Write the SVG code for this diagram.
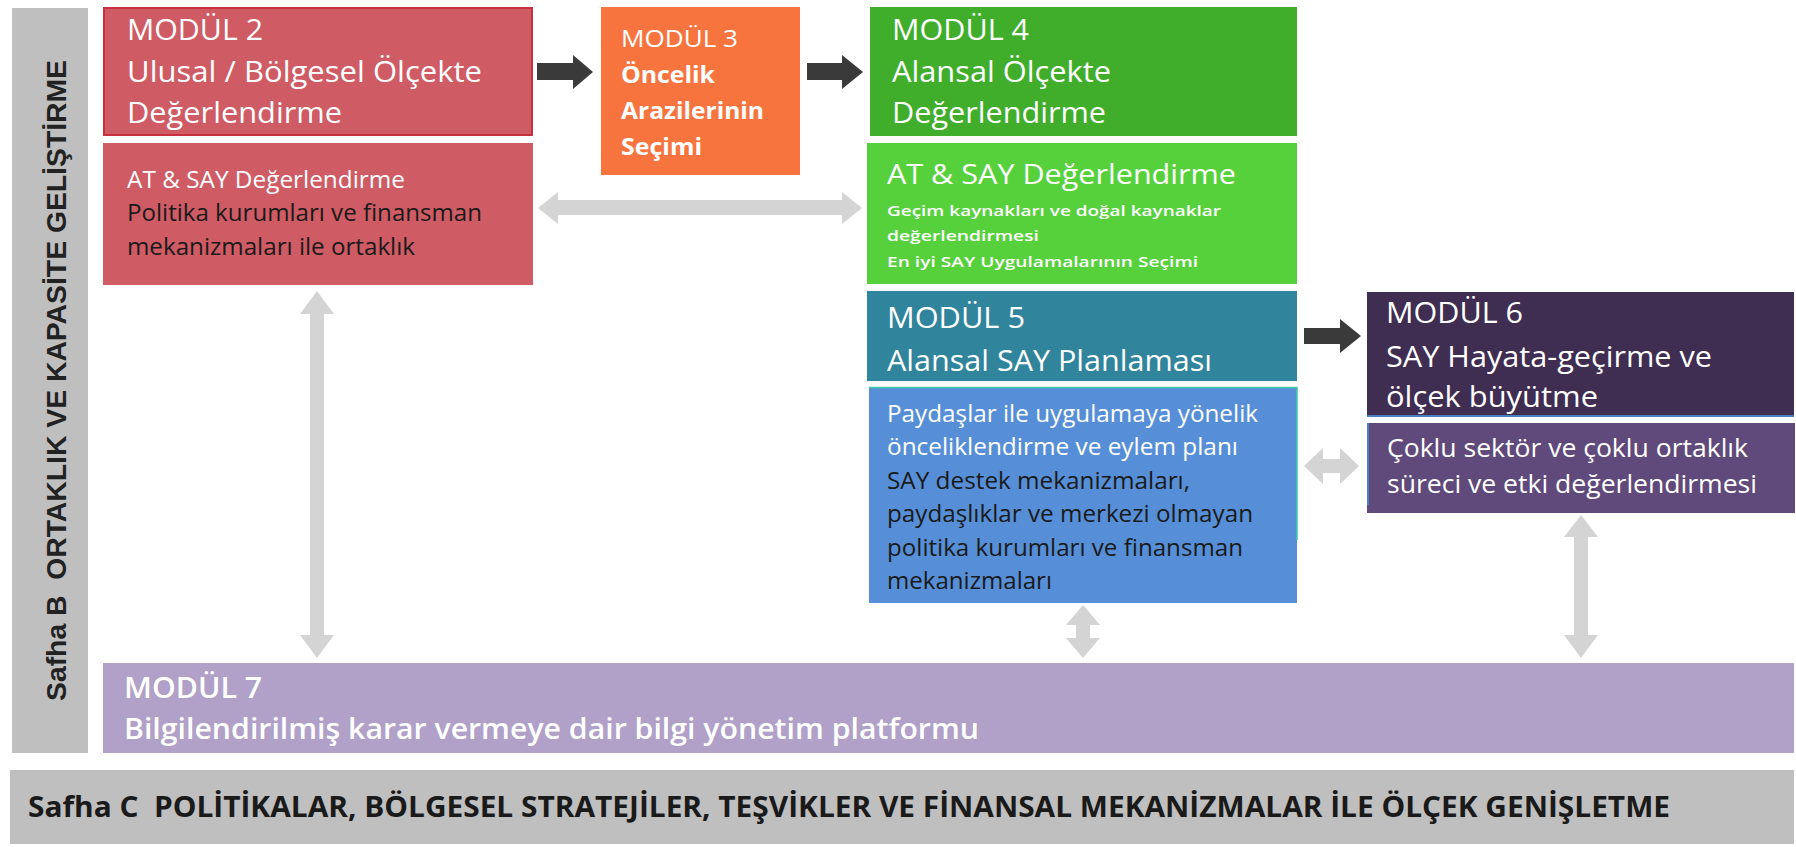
<svg xmlns="http://www.w3.org/2000/svg" width="1796" height="847" viewBox="0 0 1796 847">
<style>
  text { font-family: "Open Sans", "Noto Sans", "Liberation Sans", sans-serif; }
  .w { fill: #ffffff; }
  .d { fill: #1a1a1a; }
  .t { font-size: 29px; }
  .s { font-size: 24px; }
  .b { font-weight: bold; }
  .sb { font-weight: 600; }
  .garrow { fill: #d4d4d4; }
  .darrow { fill: #3a3a3a; }
</style>
<rect x="0" y="0" width="1796" height="847" fill="#ffffff"/>

<g id="safha-b">
  <rect x="12" y="8" width="76" height="745" fill="#bfbfbf"/>
  <text transform="translate(66,701) rotate(-90)" x="0" y="0" xml:space="preserve" style="font-family:'Liberation Sans',Arial,sans-serif;font-weight:bold;font-size:28px" fill="#222222" textLength="641" lengthAdjust="spacingAndGlyphs">Safha B  ORTAKLIK VE KAPASİTE GELİŞTİRME</text>
</g>

<g id="safha-c">
  <rect x="10" y="770" width="1784" height="74" fill="#bfbfbf"/>
  <text x="28" y="817" xml:space="preserve" class="d b" style="font-size:28px" textLength="1642" lengthAdjust="spacingAndGlyphs">Safha C  POLİTİKALAR, BÖLGESEL STRATEJİLER, TEŞVİKLER VE FİNANSAL MEKANİZMALAR İLE ÖLÇEK GENİŞLETME</text>
</g>

<g id="modul2">
  <rect x="104" y="8" width="428" height="127" fill="#cf5b64" stroke="#c8303f" stroke-width="2"/>
  <text x="127" y="40" class="w t" textLength="136" lengthAdjust="spacingAndGlyphs">MODÜL 2</text>
  <text x="127" y="82" class="w t" textLength="355" lengthAdjust="spacingAndGlyphs">Ulusal / Bölgesel Ölçekte</text>
  <text x="127" y="123" class="w t" textLength="215" lengthAdjust="spacingAndGlyphs">Değerlendirme</text>
</g>
<g id="modul2-alt">
  <rect x="103" y="143" width="430" height="142" fill="#cf5b64"/>
  <text x="127" y="188" class="w" style="font-size:23px" textLength="278" lengthAdjust="spacingAndGlyphs">AT &amp; SAY Değerlendirme</text>
  <text x="127" y="221" class="d s" textLength="355" lengthAdjust="spacingAndGlyphs">Politika kurumları ve finansman</text>
  <text x="127" y="255" class="d s" textLength="288" lengthAdjust="spacingAndGlyphs">mekanizmaları ile ortaklık</text>
</g>

<g id="modul3">
  <rect x="601" y="7" width="199" height="168" fill="#f8743f"/>
  <text x="621" y="47" class="w" style="font-size:23px" textLength="117" lengthAdjust="spacingAndGlyphs">MODÜL 3</text>
  <text x="621" y="83" class="w b" style="font-size:23px" textLength="94" lengthAdjust="spacingAndGlyphs">Öncelik</text>
  <text x="621" y="119" class="w b" style="font-size:23px" textLength="143" lengthAdjust="spacingAndGlyphs">Arazilerinin</text>
  <text x="621" y="155" class="w b" style="font-size:23px" textLength="81" lengthAdjust="spacingAndGlyphs">Seçimi</text>
</g>

<g id="modul4">
  <rect x="870" y="7" width="427" height="129" fill="#40ae2b"/>
  <text x="892" y="40" class="w t" textLength="137" lengthAdjust="spacingAndGlyphs">MODÜL 4</text>
  <text x="892" y="82" class="w t" textLength="219" lengthAdjust="spacingAndGlyphs">Alansal Ölçekte</text>
  <text x="892" y="123" class="w t" textLength="214" lengthAdjust="spacingAndGlyphs">Değerlendirme</text>
</g>
<g id="modul4-alt">
  <rect x="867" y="143" width="430" height="141" fill="#56d13c"/>
  <text x="887" y="184" class="w" style="font-size:27px" textLength="349" lengthAdjust="spacingAndGlyphs">AT &amp; SAY Değerlendirme</text>
  <text x="887" y="216" class="w sb" style="font-size:15px" textLength="334" lengthAdjust="spacingAndGlyphs">Geçim kaynakları ve doğal kaynaklar</text>
  <text x="887" y="241" class="w sb" style="font-size:15px" textLength="152" lengthAdjust="spacingAndGlyphs">değerlendirmesi</text>
  <text x="887" y="267" class="w sb" style="font-size:15px" textLength="311" lengthAdjust="spacingAndGlyphs">En iyi SAY Uygulamalarının Seçimi</text>
</g>

<g id="modul5">
  <rect x="867" y="291" width="430" height="90" fill="#30849b"/>
  <text x="887" y="328" class="w t" textLength="138" lengthAdjust="spacingAndGlyphs">MODÜL 5</text>
  <text x="887" y="371" class="w t" textLength="325" lengthAdjust="spacingAndGlyphs">Alansal SAY Planlaması</text>
</g>
<g id="modul5-alt">
  <rect x="869" y="387" width="428" height="216" fill="#568fd7"/>
  <path d="M869 387.5 H1297 V540" fill="none" stroke="#3fc9a9" stroke-width="1.5"/>
  <text x="887" y="422" class="w s" textLength="371" lengthAdjust="spacingAndGlyphs">Paydaşlar ile uygulamaya yönelik</text>
  <text x="887" y="455" class="w s" textLength="351" lengthAdjust="spacingAndGlyphs">önceliklendirme ve eylem planı</text>
  <text x="887" y="489" class="d s" textLength="303" lengthAdjust="spacingAndGlyphs">SAY destek mekanizmaları,</text>
  <text x="887" y="522" class="d s" textLength="366" lengthAdjust="spacingAndGlyphs">paydaşlıklar ve merkezi olmayan</text>
  <text x="887" y="556" class="d s" textLength="356" lengthAdjust="spacingAndGlyphs">politika kurumları ve finansman</text>
  <text x="887" y="589" class="d s" textLength="165" lengthAdjust="spacingAndGlyphs">mekanizmaları</text>
</g>

<g id="modul6">
  <rect x="1367" y="292" width="427" height="125" fill="#3f2d52"/>
  <line x1="1367" y1="416" x2="1794" y2="416" stroke="#4a7fc0" stroke-width="2"/>
  <text x="1386" y="323" class="w t" textLength="137" lengthAdjust="spacingAndGlyphs">MODÜL 6</text>
  <text x="1386" y="367" class="w t" textLength="326" lengthAdjust="spacingAndGlyphs">SAY Hayata-geçirme ve</text>
  <text x="1386" y="407" class="w t" textLength="212" lengthAdjust="spacingAndGlyphs">ölçek büyütme</text>
</g>
<g id="modul6-alt">
  <rect x="1367" y="423" width="428" height="90" fill="#604a7b"/>
  <line x1="1368" y1="423" x2="1368" y2="505" stroke="#4a7fc0" stroke-width="2"/>
  <text x="1387" y="457" class="w" style="font-size:25px" textLength="361" lengthAdjust="spacingAndGlyphs">Çoklu sektör ve çoklu ortaklık</text>
  <text x="1387" y="493" class="w" style="font-size:25px" textLength="370" lengthAdjust="spacingAndGlyphs">süreci ve etki değerlendirmesi</text>
</g>

<g id="modul7">
  <rect x="103" y="663" width="1691" height="90" fill="#b1a0c7"/>
  <text x="124" y="698" class="w t sb" textLength="138" lengthAdjust="spacingAndGlyphs">MODÜL 7</text>
  <text x="124" y="739" class="w t sb" textLength="855" lengthAdjust="spacingAndGlyphs">Bilgilendirilmiş karar vermeye dair bilgi yönetim platformu</text>
</g>

<g id="connectors">
  <!-- dark flow arrows -->
  <polygon class="darrow" points="537,63 573,63 573,55 593,72 573,89 573,80 537,80"/>
  <polygon class="darrow" points="807,63 842,63 842,55 863,72 842,89 842,80 807,80"/>
  <polygon class="darrow" points="1304,328 1340,328 1340,319 1361,336 1340,353 1340,344 1304,344"/>
  <!-- grey double arrows -->
  <polygon class="garrow" points="538,208 558,192 558,200 842,200 842,192 862,208 842,224 842,215 558,215 558,224"/>
  <polygon class="garrow" points="1304,466 1323,448 1323,459 1340,459 1340,448 1359,466 1340,484 1340,473 1323,473 1323,484"/>
  <polygon class="garrow" points="317,291 334,314 324,314 324,635 334,635 317,658 300,635 310,635 310,314 300,314"/>
  <polygon class="garrow" points="1083,605 1100,625 1090,625 1090,638 1100,638 1083,658 1066,638 1076,638 1076,625 1066,625"/>
  <polygon class="garrow" points="1581,515 1598,537 1588,537 1588,635 1598,635 1581,658 1564,635 1574,635 1574,537 1564,537"/>
</g>
</svg>
